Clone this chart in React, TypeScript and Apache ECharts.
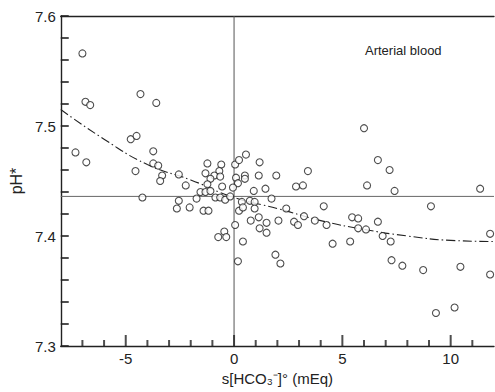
import React, { useEffect, useRef } from "react";
import * as echarts from "echarts";

// scatter points: s[HCO3-]° (mEq) and pH*
const pointsX = [
  -7.0, -6.86, -6.64, -4.32, -3.59, -4.77, -4.5, -7.32, -6.82, -3.73,
  -3.73, -3.5, -4.55, -3.32, -3.41, -2.55, -2.23, -1.23, -1.32, -0.59,
  -0.68, -0.91, -0.64, -1.09, -1.23, -0.55, 0.05, 0.23, 0.55, 0.09,
  0.18, 0.5, 0.5, -0.05, -1.55, -1.32, -1.09, -0.86, -0.64, -0.41,
  -0.18, -4.23, -1.73, -2.55, -2.64, -2.05, -1.41, -1.18, 0.23, 0.05,
  -0.73, -0.45, -0.36, 0.41, 0.18, 1.18, 1.14, 1.95, 3.41, 2.86,
  3.18, 0.91, 1.45, 1.73, 4.14, 0.36, 0.73, 0.95, 0.95, 0.41,
  1.14, 2.41, 3.23, 0.77, 1.18, 1.5, 1.5, 2.05, 2.77, 2.95,
  3.73, 4.27, 4.55, 1.91, 2.14, 5.36, 5.45, 5.73, 5.73, 6.09,
  6.64, 6.86, 7.23, 7.27, 7.77, 8.73, 9.09, 10.45, 9.32, 10.18,
  11.82, 11.82, 6.0, 6.64, 7.18, 6.14, 7.41, 11.36,
];
const pointsY = [
  7.566, 7.522, 7.519, 7.529, 7.521, 7.488, 7.491, 7.476, 7.467, 7.477,
  7.466, 7.464, 7.459, 7.455, 7.45, 7.456, 7.446, 7.466, 7.457, 7.465,
  7.459, 7.455, 7.454, 7.452, 7.447, 7.445, 7.465, 7.469, 7.474, 7.453,
  7.448, 7.455, 7.452, 7.444, 7.44, 7.44, 7.441, 7.435, 7.435, 7.433,
  7.436, 7.435, 7.434, 7.432, 7.425, 7.426, 7.423, 7.423, 7.423, 7.41,
  7.399, 7.404, 7.399, 7.395, 7.377, 7.467, 7.455, 7.455, 7.459, 7.445,
  7.446, 7.441, 7.443, 7.434, 7.427, 7.431, 7.432, 7.431, 7.425, 7.426,
  7.417, 7.425, 7.418, 7.414, 7.407, 7.412, 7.403, 7.414, 7.413, 7.41,
  7.414, 7.41, 7.393, 7.383, 7.375, 7.395, 7.417, 7.416, 7.407, 7.406,
  7.413, 7.4, 7.395, 7.378, 7.373, 7.369, 7.427, 7.372, 7.33, 7.335,
  7.402, 7.365, 7.498, 7.469, 7.46, 7.446, 7.441, 7.443,
];

// fitted dash-dot curve
const curveX = [-8, -6, -4, -2, 0, 2, 4, 6, 8, 10, 12];
const curveY = [7.515, 7.488, 7.465, 7.451, 7.435, 7.425, 7.414, 7.406, 7.4, 7.396, 7.395];

// reference lines
const refPH = 7.436;
const refX = 0;

// tick labels and unlabelled minor tick positions
const xTickLabels = [-5, 0, 5, 10];
const yTickLabels = [7.3, 7.4, 7.5, 7.6];
const xMinorTicks = [-7, -6, -4, -3, -2, -1, 1, 2, 3, 4, 6, 7, 8, 9, 11];
const yMinorTicks = [7.32, 7.34, 7.36, 7.38, 7.42, 7.44, 7.46, 7.48, 7.52, 7.54, 7.56, 7.58];

const X_MIN = -8;
const X_MAX = 12;
const Y_MIN = 7.3;
const Y_MAX = 7.6;

const INK = "#222222";
const FONT = "Liberation Sans";

export default function App() {
  const ref = useRef<HTMLDivElement>(null);

  useEffect(() => {
    if (!ref.current) return;
    const chart = echarts.init(ref.current, undefined, { renderer: "svg" });

    const scatterData = pointsX.map((x, i) => [x, pointsY[i]]);
    const curveData = curveX.map((x, i) => [x, curveY[i]]);

    const tickSeries = (data: number[][], w: number, h: number, ox: number, oy: number) => ({
      type: "scatter",
      data,
      symbol: "rect",
      symbolSize: [w, h],
      symbolOffset: [ox, oy],
      itemStyle: { color: INK },
      silent: true,
      clip: false,
      z: 5,
    });

    chart.setOption({
      animation: false,
      backgroundColor: "#ffffff",
      grid: { left: 55, right: 0, top: 16, bottom: 46 },
      xAxis: [
        {
          type: "value",
          min: X_MIN,
          max: X_MAX,
          interval: 1,
          position: "bottom",
          name: "s[HCO\u2083\u207b]\u00b0 (mEq)",
          nameLocation: "middle",
          nameGap: 24,
          nameTextStyle: { color: INK, fontSize: 15, fontFamily: FONT },
          axisLine: { show: true, onZero: false, lineStyle: { color: INK, width: 1.4 } },
          axisTick: { show: false },
          axisLabel: {
            color: INK,
            fontSize: 15,
            fontFamily: FONT,
            margin: 5,
            formatter: (v: number) =>
              xTickLabels.includes(Math.round(v)) && Math.abs(v - Math.round(v)) < 1e-6
                ? String(Math.round(v))
                : "",
          },
          splitLine: { show: false },
        },
        {
          type: "value",
          min: X_MIN,
          max: X_MAX,
          position: "top",
          axisLine: { show: true, onZero: false, lineStyle: { color: INK, width: 1.4 } },
          axisTick: { show: false },
          axisLabel: { show: false },
          splitLine: { show: false },
        },
      ],
      yAxis: {
        type: "value",
        min: Y_MIN,
        max: Y_MAX,
        interval: 0.1,
        name: "pH*",
        nameLocation: "middle",
        nameGap: 30,
        nameRotate: 90,
        nameTextStyle: { color: INK, fontSize: 16, fontFamily: FONT },
        axisLine: { show: true, onZero: false, lineStyle: { color: INK, width: 1.4 } },
        axisTick: { show: false },
        axisLabel: {
          color: INK,
          fontSize: 15,
          fontFamily: FONT,
          margin: 5,
          formatter: (v: number) => {
            const hit = yTickLabels.find((t) => Math.abs(t - v) < 1e-6);
            return hit !== undefined ? hit.toFixed(1) : "";
          },
        },
        splitLine: { show: false },
      },
      graphic: [
        {
          type: "text",
          left: 365,
          top: 44,
          style: { text: "Arterial blood", fontSize: 13, fontFamily: FONT, fill: INK },
        },
      ],
      series: [
        {
          type: "line",
          data: [
            [X_MIN, refPH],
            [X_MAX, refPH],
          ],
          symbol: "none",
          silent: true,
          lineStyle: { color: "#666", width: 1 },
          z: 1,
        },
        {
          type: "line",
          data: [
            [refX, Y_MIN],
            [refX, Y_MAX],
          ],
          symbol: "none",
          silent: true,
          lineStyle: { color: "#555", width: 1 },
          z: 1,
        },
        {
          type: "line",
          data: curveData,
          smooth: true,
          symbol: "none",
          lineStyle: { color: INK, width: 1.1, type: [9, 3, 1.5, 3] },
          z: 2,
        },
        {
          type: "scatter",
          data: scatterData,
          symbol: "circle",
          symbolSize: 7,
          itemStyle: { color: "#ffffff", borderColor: INK, borderWidth: 1.1 },
          z: 3,
        },
        // x-axis major ticks (inside, ~11 px)
        tickSeries(xTickLabels.map((v) => [v, Y_MIN]), 2, 11, 0, -5.5),
        // x-axis minor ticks (inside, ~6 px)
        tickSeries(xMinorTicks.map((v) => [v, Y_MIN]), 2, 6, 0, -3),
        // y-axis ticks (inside, ~8 px)
        tickSeries(yTickLabels.concat(yMinorTicks).map((v) => [X_MIN, v]), 8, 2, 4, 0),
      ],
    });

    return () => chart.dispose();
  }, []);

  return (
    <div
      ref={ref}
      style={{ position: "fixed", left: 0, top: 0, width: 497, height: 392 }}
    />
  );
}
